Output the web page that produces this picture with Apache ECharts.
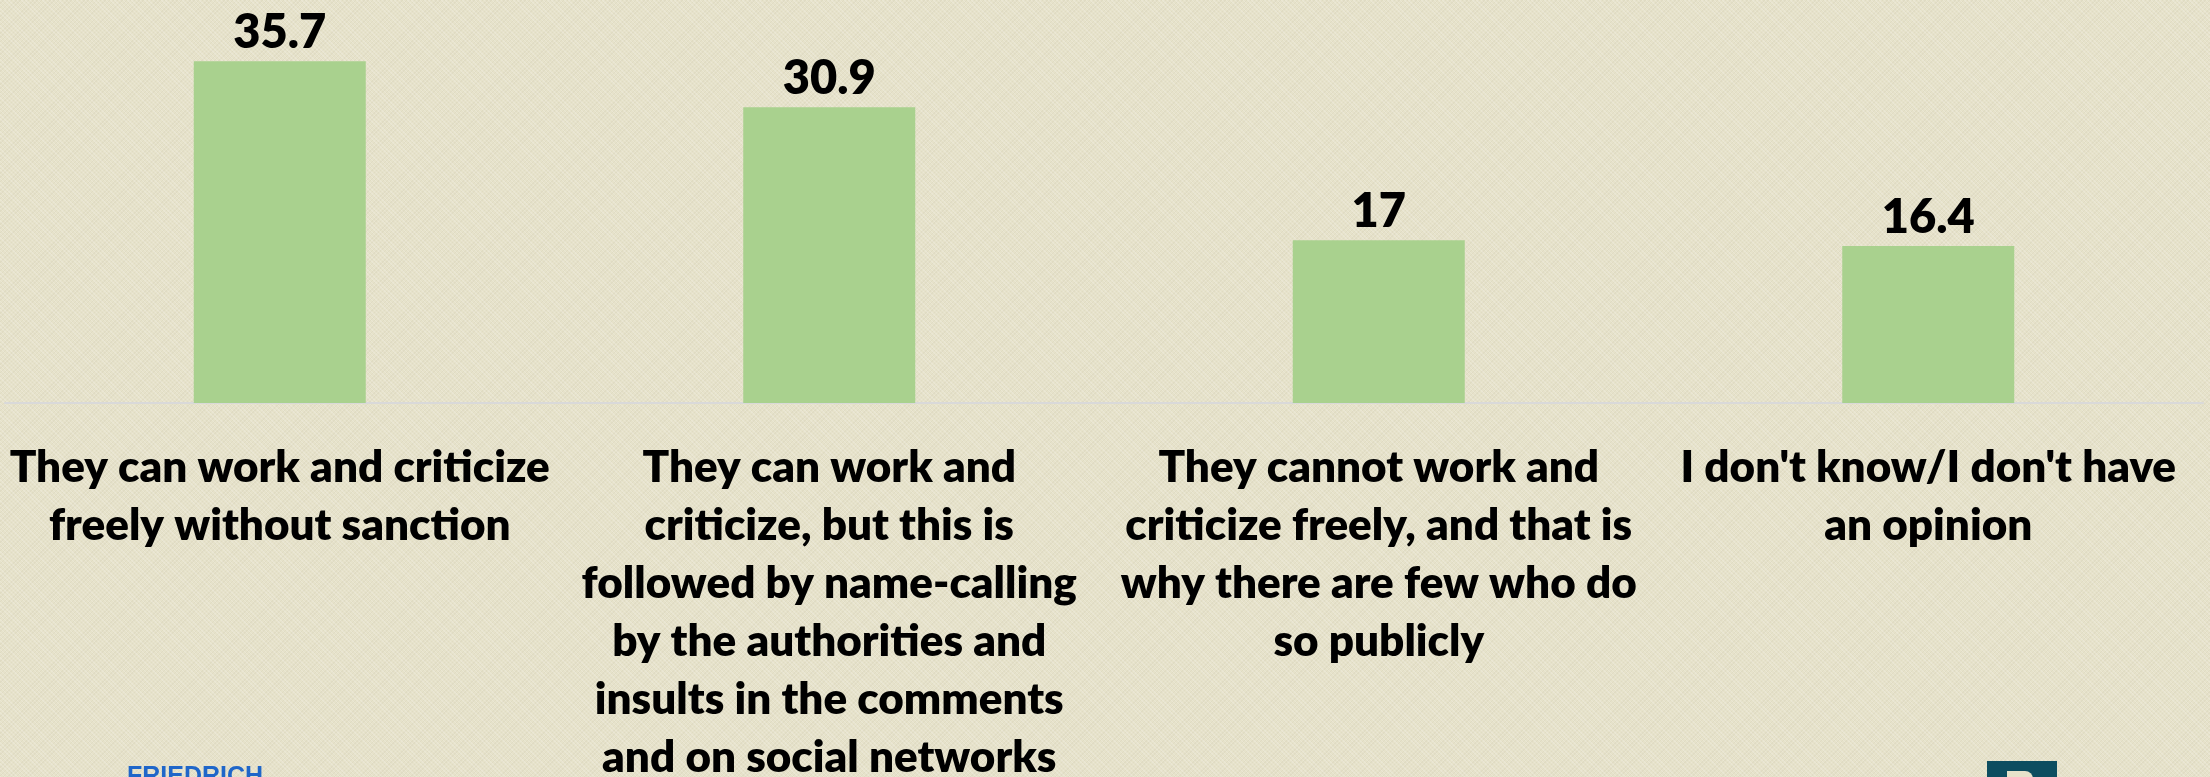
<!DOCTYPE html>
<html>
<head>
<meta charset="utf-8">
<script src="https://cdn.jsdelivr.net/npm/echarts@6/dist/echarts.min.js"></script>
<style>
  html, body { margin: 0; padding: 0; }
  body {
    width: 2210px; height: 777px; overflow: hidden;
    background-color: #e6e2ca;
    background-image:
      repeating-linear-gradient(45deg, rgba(255,255,255,0.18) 0 1px, transparent 1px 3px),
      repeating-linear-gradient(-45deg, rgba(120,110,80,0.06) 0 1px, transparent 1px 3px);
  }
  #chart { width: 2210px; height: 777px; }
</style>
</head>
<body>
<div id="chart"></div>
<script>
  // answers (category labels, wrapped as in the original)
  const categories = [
    'They can work and criticize\nfreely without sanction',
    'They can work and\ncriticize, but this is\nfollowed by name-calling\nby the authorities and\ninsults in the comments\nand on social networks',
    'They cannot work and\ncriticize freely, and that is\nwhy there are few who do\nso publicly',
    "I don't know/I don't have\nan opinion"
  ];
  // share of respondents, %
  const values = [35.7, 30.9, 17, 16.4];

  const chart = echarts.init(document.getElementById('chart'));

  const option = {
    backgroundColor: 'transparent',
    animation: false,
    grid: { left: 5, right: 7, top: 20, bottom: 374, outerBoundsMode: 'none' },
    xAxis: {
      type: 'category',
      data: categories,
      axisLine: { show: true, lineStyle: { color: '#d9d9d9', width: 2 } },
      axisTick: { show: false },
      axisLabel: {
        interval: 0,
        margin: 36,
        color: '#000',
        fontFamily: 'Lato',
        fontWeight: 800,
        fontSize: 44,
        lineHeight: 58,
        align: 'center'
      }
    },
    yAxis: {
      type: 'value',
      min: 0,
      max: 40,
      show: false,
      splitLine: { show: false }
    },
    series: [
      {
        type: 'bar',
        data: values,
        barWidth: 172,
        itemStyle: { color: '#a9d18e' },
        label: {
          show: true,
          position: 'top',
          distance: 5,
          color: '#000',
          fontFamily: 'Lato',
          fontWeight: 800,
          fontSize: 47
        }
      }
    ],
    graphic: [
      // partially visible logos along the bottom edge
      {
        type: 'text',
        x: 127,
        y: 765,
        style: { text: 'FRIEDRICH', fill: '#1f66c9', font: 'bold 25px "Liberation Sans"' }
      },
      {
        type: 'rect',
        shape: { x: 1987, y: 761, width: 70, height: 20 },
        style: { fill: '#0d4d60' }
      },
      {
        type: 'rect',
        shape: { x: 2007, y: 771, width: 26, height: 10, r: [0, 8, 0, 0] },
        style: { fill: '#e6e2ca' }
      }
    ]
  };

  chart.setOption(option);
</script>
</body>
</html>
